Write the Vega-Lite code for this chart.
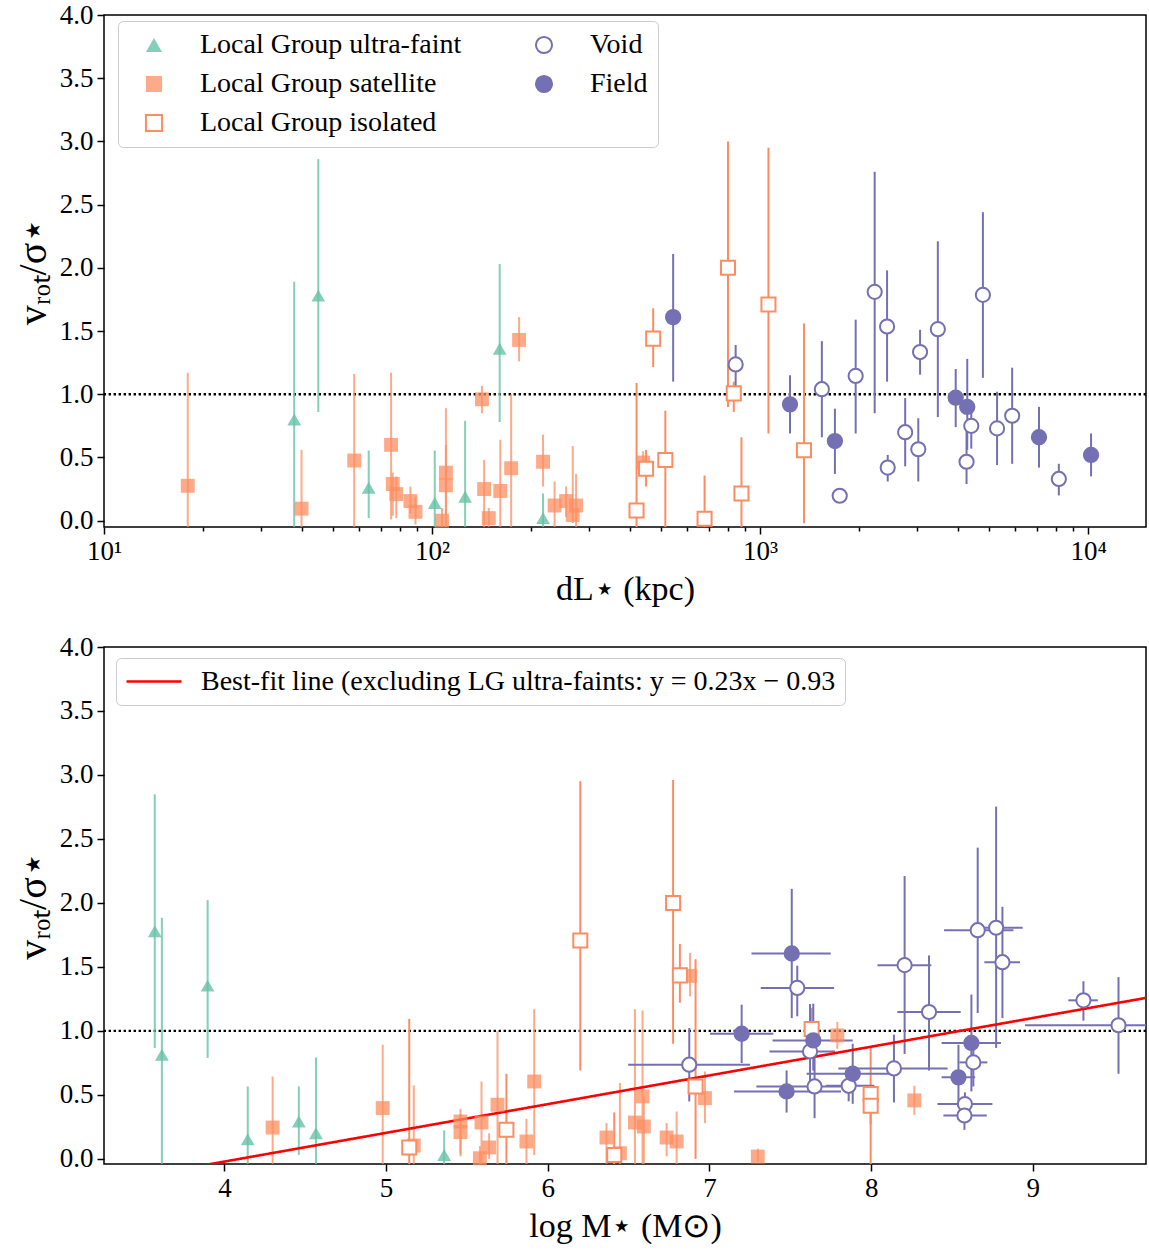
{
  "$schema": "https://vega.github.io/schema/vega-lite/v6.json",
  "background": "white",
  "padding": {"left": 12, "top": 0, "right": 0, "bottom": 0},
  "spacing": 25,
  "config": {
    "font": "Liberation Serif",
    "view": {"stroke": "black", "strokeWidth": 1.5},
    "axis": {"domain": false, "grid": false, "labelFlush": false, "labelFont": "Liberation Serif", "labelFontSize": 27, "labelColor": "black", "tickColor": "black", "tickWidth": 1.5, "tickSize": 7, "labelPadding": 4, "titleFont": "Liberation Serif", "titleFontSize": 34, "titleFontWeight": "normal", "titleColor": "black", "titlePadding": 8},
    "axisY": {"titleFontSize": 40, "titlePadding": 6}
  },
  "datasets": {
    "top": [
      {"g":"Local Group ultra-faint","d":38.0,"v":0.80,"lo":-0.05,"hi":1.89},
      {"g":"Local Group ultra-faint","d":45.0,"v":1.78,"lo":0.86,"hi":2.86},
      {"g":"Local Group ultra-faint","d":64.1,"v":0.26,"lo":0.02,"hi":0.555},
      {"g":"Local Group ultra-faint","d":101.9,"v":0.14,"lo":-0.05,"hi":0.555},
      {"g":"Local Group ultra-faint","d":126.1,"v":0.19,"lo":-0.05,"hi":0.79},
      {"g":"Local Group ultra-faint","d":160.7,"v":1.36,"lo":0.78,"hi":2.03},
      {"g":"Local Group ultra-faint","d":217.9,"v":0.02,"lo":-0.05,"hi":0.215},
      {"g":"Local Group satellite","d":18.0,"v":0.276,"lo":-0.05,"hi":1.17},
      {"g":"Local Group satellite","d":40.0,"v":0.095,"lo":-0.05,"hi":0.56},
      {"g":"Local Group satellite","d":57.9,"v":0.476,"lo":-0.05,"hi":1.16},
      {"g":"Local Group satellite","d":75.0,"v":0.60,"lo":0.01,"hi":1.17},
      {"g":"Local Group satellite","d":75.9,"v":0.29,"lo":0.04,"hi":0.38},
      {"g":"Local Group satellite","d":77.8,"v":0.21,"lo":0.02,"hi":0.35},
      {"g":"Local Group satellite","d":85.9,"v":0.155,"lo":0.06,"hi":0.27},
      {"g":"Local Group satellite","d":89.0,"v":0.07,"lo":-0.03,"hi":0.19},
      {"g":"Local Group satellite","d":107.2,"v":0.0,"lo":-0.05,"hi":0.1},
      {"g":"Local Group satellite","d":110.2,"v":0.38,"lo":-0.05,"hi":0.89},
      {"g":"Local Group satellite","d":110.2,"v":0.28,"lo":0.05,"hi":0.60},
      {"g":"Local Group satellite","d":141.9,"v":0.96,"lo":0.85,"hi":1.066},
      {"g":"Local Group satellite","d":144.1,"v":0.25,"lo":-0.05,"hi":0.48},
      {"g":"Local Group satellite","d":148.9,"v":0.02,"lo":-0.05,"hi":0.1},
      {"g":"Local Group satellite","d":161.4,"v":0.235,"lo":-0.05,"hi":0.64},
      {"g":"Local Group satellite","d":174.2,"v":0.415,"lo":-0.05,"hi":1.0},
      {"g":"Local Group satellite","d":184.2,"v":1.43,"lo":1.26,"hi":1.61},
      {"g":"Local Group satellite","d":217.9,"v":0.466,"lo":0.27,"hi":0.68},
      {"g":"Local Group satellite","d":236.3,"v":0.12,"lo":-0.05,"hi":0.31},
      {"g":"Local Group satellite","d":256.2,"v":0.155,"lo":0.03,"hi":0.27},
      {"g":"Local Group satellite","d":268.4,"v":0.045,"lo":-0.02,"hi":0.59},
      {"g":"Local Group satellite","d":274.8,"v":0.12,"lo":-0.05,"hi":0.37},
      {"g":"Local Group satellite","d":440,"v":0.46,"lo":0.40,"hi":0.55},
      {"g":"Local Group isolated","d":420,"v":0.08,"lo":-0.05,"hi":1.09},
      {"g":"Local Group isolated","d":449,"v":0.41,"lo":0.27,"hi":0.56},
      {"g":"Local Group isolated","d":472,"v":1.44,"lo":1.215,"hi":1.68},
      {"g":"Local Group isolated","d":514,"v":0.48,"lo":-0.05,"hi":0.87},
      {"g":"Local Group isolated","d":677,"v":0.015,"lo":-0.05,"hi":0.357},
      {"g":"Local Group isolated","d":798,"v":2.0,"lo":0.90,"hi":3.0},
      {"g":"Local Group isolated","d":831,"v":1.007,"lo":0.86,"hi":1.1},
      {"g":"Local Group isolated","d":877,"v":0.215,"lo":-0.05,"hi":0.66},
      {"g":"Local Group isolated","d":1060,"v":1.71,"lo":0.69,"hi":2.95},
      {"g":"Local Group isolated","d":1360,"v":0.557,"lo":-0.02,"hi":1.56},
      {"g":"Void","d":842,"v":1.236,"lo":1.05,"hi":1.39},
      {"g":"Void","d":1542,"v":1.04,"lo":0.66,"hi":1.42},
      {"g":"Void","d":1748,"v":0.197,"lo":null,"hi":null},
      {"g":"Void","d":1955,"v":1.145,"lo":0.69,"hi":1.59},
      {"g":"Void","d":2234,"v":1.81,"lo":0.85,"hi":2.76},
      {"g":"Void","d":2437,"v":1.536,"lo":1.10,"hi":1.98},
      {"g":"Void","d":2448,"v":0.42,"lo":0.31,"hi":0.52},
      {"g":"Void","d":2767,"v":0.70,"lo":0.43,"hi":0.97},
      {"g":"Void","d":3034,"v":0.565,"lo":0.31,"hi":0.81},
      {"g":"Void","d":3072,"v":1.334,"lo":1.155,"hi":1.51},
      {"g":"Void","d":3480,"v":1.515,"lo":0.82,"hi":2.21},
      {"g":"Void","d":4257,"v":0.466,"lo":0.29,"hi":0.74},
      {"g":"Void","d":4401,"v":0.75,"lo":0.57,"hi":0.93},
      {"g":"Void","d":4775,"v":1.786,"lo":1.13,"hi":2.44},
      {"g":"Void","d":5274,"v":0.73,"lo":0.44,"hi":1.02},
      {"g":"Void","d":5864,"v":0.83,"lo":0.45,"hi":1.21},
      {"g":"Void","d":8136,"v":0.33,"lo":0.20,"hi":0.45},
      {"g":"Field","d":543,"v":1.61,"lo":1.10,"hi":2.11},
      {"g":"Field","d":1233,"v":0.92,"lo":0.69,"hi":1.15},
      {"g":"Field","d":1690,"v":0.63,"lo":0.37,"hi":0.886},
      {"g":"Field","d":3945,"v":0.973,"lo":0.74,"hi":1.20},
      {"g":"Field","d":4278,"v":0.90,"lo":0.56,"hi":1.28},
      {"g":"Field","d":7079,"v":0.66,"lo":0.42,"hi":0.90},
      {"g":"Field","d":10200,"v":0.52,"lo":0.35,"hi":0.69}
    ],
    "bot": [
      {"g":"Local Group ultra-faint","m":3.569,"v":1.779,"lo":0.867,"hi":2.849},
      {"g":"Local Group ultra-faint","m":3.613,"v":0.814,"lo":-0.05,"hi":1.884},
      {"g":"Local Group ultra-faint","m":3.896,"v":1.354,"lo":0.788,"hi":2.022},
      {"g":"Local Group ultra-faint","m":4.144,"v":0.154,"lo":-0.05,"hi":0.566},
      {"g":"Local Group ultra-faint","m":4.46,"v":0.292,"lo":0.031,"hi":0.566},
      {"g":"Local Group ultra-faint","m":4.566,"v":0.201,"lo":-0.05,"hi":0.793},
      {"g":"Local Group ultra-faint","m":5.359,"v":0.031,"lo":-0.05,"hi":0.222},
      {"g":"Local Group satellite","m":4.298,"v":0.245,"lo":-0.05,"hi":0.644},
      {"g":"Local Group satellite","m":4.979,"v":0.397,"lo":-0.05,"hi":0.892},
      {"g":"Local Group satellite","m":5.171,"v":0.104,"lo":-0.05,"hi":0.574},
      {"g":"Local Group satellite","m":5.46,"v":0.292,"lo":0.039,"hi":0.391},
      {"g":"Local Group satellite","m":5.46,"v":0.209,"lo":0.02,"hi":0.35},
      {"g":"Local Group satellite","m":5.58,"v":0.005,"lo":-0.05,"hi":0.1},
      {"g":"Local Group satellite","m":5.59,"v":0.284,"lo":-0.05,"hi":0.605},
      {"g":"Local Group satellite","m":5.637,"v":0.089,"lo":0.0,"hi":0.2},
      {"g":"Local Group satellite","m":5.689,"v":0.423,"lo":-0.05,"hi":0.997},
      {"g":"Local Group satellite","m":5.868,"v":0.136,"lo":-0.05,"hi":0.313},
      {"g":"Local Group satellite","m":5.916,"v":0.605,"lo":0.03,"hi":1.17},
      {"g":"Local Group satellite","m":6.363,"v":0.167,"lo":-0.05,"hi":0.28},
      {"g":"Local Group satellite","m":6.446,"v":0.044,"lo":-0.05,"hi":0.593},
      {"g":"Local Group satellite","m":6.539,"v":0.284,"lo":-0.05,"hi":1.17},
      {"g":"Local Group satellite","m":6.586,"v":0.488,"lo":-0.05,"hi":1.16},
      {"g":"Local Group satellite","m":6.594,"v":0.253,"lo":-0.05,"hi":0.48},
      {"g":"Local Group satellite","m":6.735,"v":0.167,"lo":0.02,"hi":0.28},
      {"g":"Local Group satellite","m":6.797,"v":0.136,"lo":-0.05,"hi":0.37},
      {"g":"Local Group satellite","m":6.88,"v":1.43,"lo":1.27,"hi":1.61},
      {"g":"Local Group satellite","m":6.972,"v":0.475,"lo":0.28,"hi":0.683},
      {"g":"Local Group satellite","m":7.299,"v":0.018,"lo":-0.02,"hi":0.08},
      {"g":"Local Group satellite","m":7.791,"v":0.965,"lo":0.86,"hi":1.07},
      {"g":"Local Group satellite","m":8.267,"v":0.457,"lo":0.344,"hi":0.571},
      {"g":"Local Group isolated","m":5.143,"v":0.089,"lo":-0.05,"hi":1.094},
      {"g":"Local Group isolated","m":5.744,"v":0.227,"lo":-0.05,"hi":0.665},
      {"g":"Local Group isolated","m":6.201,"v":1.706,"lo":0.69,"hi":2.95},
      {"g":"Local Group isolated","m":6.411,"v":0.031,"lo":-0.05,"hi":0.363},
      {"g":"Local Group isolated","m":6.775,"v":2.0,"lo":0.9,"hi":2.96},
      {"g":"Local Group isolated","m":6.817,"v":1.434,"lo":1.22,"hi":1.68},
      {"g":"Local Group isolated","m":6.914,"v":0.566,"lo":0.0,"hi":1.56},
      {"g":"Local Group isolated","m":7.632,"v":1.015,"lo":0.86,"hi":1.18},
      {"g":"Local Group isolated","m":7.997,"v":0.506,"lo":-0.05,"hi":0.867},
      {"g":"Local Group isolated","m":7.997,"v":0.415,"lo":0.27,"hi":0.56},
      {"g":"Void","m":6.875,"v":0.736,"lo":0.449,"hi":1.023,"mlo":6.497,"mhi":7.251},
      {"g":"Void","m":7.543,"v":1.336,"lo":1.114,"hi":1.51,"mlo":7.317,"mhi":7.771},
      {"g":"Void","m":7.622,"v":0.84,"lo":0.514,"hi":1.21,"mlo":7.371,"mhi":7.777},
      {"g":"Void","m":7.65,"v":0.566,"lo":0.318,"hi":0.81,"mlo":7.29,"mhi":7.85},
      {"g":"Void","m":7.861,"v":0.571,"lo":0.45,"hi":0.66,"mlo":7.72,"mhi":8.02},
      {"g":"Void","m":8.141,"v":0.707,"lo":0.441,"hi":0.971,"mlo":7.797,"mhi":8.473},
      {"g":"Void","m":8.207,"v":1.514,"lo":0.82,"hi":2.21,"mlo":8.039,"mhi":8.372},
      {"g":"Void","m":8.358,"v":1.148,"lo":0.69,"hi":1.59,"mlo":8.162,"mhi":8.554},
      {"g":"Void","m":8.659,"v":1.787,"lo":1.14,"hi":2.432,"mlo":8.451,"mhi":8.88},
      {"g":"Void","m":8.773,"v":1.806,"lo":0.867,"hi":2.753,"mlo":8.694,"mhi":8.937},
      {"g":"Void","m":8.812,"v":1.537,"lo":1.10,"hi":1.97,"mlo":8.70,"mhi":8.921},
      {"g":"Void","m":8.632,"v":0.754,"lo":0.566,"hi":0.93,"mlo":8.546,"mhi":8.719},
      {"g":"Void","m":8.58,"v":0.428,"lo":0.31,"hi":0.52,"mlo":8.41,"mhi":8.75},
      {"g":"Void","m":8.577,"v":0.339,"lo":0.227,"hi":0.45,"mlo":8.447,"mhi":8.715},
      {"g":"Void","m":9.313,"v":1.239,"lo":1.08,"hi":1.388,"mlo":9.22,"mhi":9.402},
      {"g":"Void","m":9.53,"v":1.044,"lo":0.665,"hi":1.42,"mlo":8.952,"mhi":9.9},
      {"g":"Field","m":7.509,"v":1.605,"lo":1.10,"hi":2.11,"mlo":7.26,"mhi":7.75},
      {"g":"Field","m":7.199,"v":0.978,"lo":0.749,"hi":1.205,"mlo":7.003,"mhi":7.395},
      {"g":"Field","m":7.642,"v":0.926,"lo":0.69,"hi":1.213,"mlo":7.39,"mhi":7.886},
      {"g":"Field","m":7.886,"v":0.665,"lo":0.43,"hi":0.90,"mlo":7.601,"mhi":8.137},
      {"g":"Field","m":7.477,"v":0.527,"lo":0.362,"hi":0.691,"mlo":7.152,"mhi":7.814},
      {"g":"Field","m":8.62,"v":0.906,"lo":0.527,"hi":1.284,"mlo":8.436,"mhi":8.803},
      {"g":"Field","m":8.54,"v":0.637,"lo":0.41,"hi":0.892,"mlo":8.436,"mhi":8.643}
    ],
    "fit": [
      {"m":3.255,"v":-0.188,"lab":"Best-fit line (excluding LG ultra-faints: y = 0.23x − 0.93"},
      {"m":9.70,"v":1.258,"lab":"Best-fit line (excluding LG ultra-faints: y = 0.23x − 0.93"}
    ]
  },
  "vconcat": [
    {
      "width": 1042,
      "height": 512,
      "layer": [
        {
          "data": {"values": [{}]},
          "mark": {"type": "rule", "color": "black", "strokeWidth": 2.4, "strokeDash": [2.4, 2.6]},
          "encoding": {"y": {"datum": 1, "type": "quantitative"}}
        },
        {
          "data": {"name": "top"},
          "mark": {"type": "rule", "strokeWidth": 2, "clip": true},
          "encoding": {
            "x": {"field": "d", "type": "quantitative", "scale": {"type": "log", "domain": [10, 15000], "nice": false},
                  "axis": {"title": "dL⋆ (kpc)", "values": [10,20,30,40,50,60,70,80,90,100,200,300,400,500,600,700,800,900,1000,2000,3000,4000,5000,6000,7000,8000,9000,10000],
                           "labelExpr": "datum.value == 10 ? '10¹' : datum.value == 100 ? '10²' : datum.value == 1000 ? '10³' : datum.value == 10000 ? '10⁴' : ''",
                           "tickSize": {"condition": {"test": "datum.value == 10 || datum.value == 100 || datum.value == 1000 || datum.value == 10000", "value": 7}, "value": 4}}},
            "y": {"field": "lo", "type": "quantitative", "scale": {"domain": [-0.05, 4.0], "nice": false, "zero": false},
                  "axis": {"title": "vᵣₒₜ/σ⋆", "values": [0,0.5,1,1.5,2,2.5,3,3.5,4], "format": ".1f"}},
            "y2": {"field": "hi"},
            "stroke": {"field": "g", "type": "nominal", "legend": null,
                       "scale": {"domain": ["Field", "Void", "Local Group isolated", "Local Group satellite", "Local Group ultra-faint"],
                                 "range": ["#7570b3", "#7570b3", "#fc8d62", "rgba(252,141,98,0.75)", "rgba(102,194,165,0.8)"]}}
          }
        },
        {
          "data": {"name": "top"},
          "mark": {"type": "point", "strokeWidth": 2, "opacity": 1},
          "encoding": {
            "x": {"field": "d", "type": "quantitative"},
            "y": {"field": "v", "type": "quantitative"},
            "size": {"field": "g", "type": "nominal", "legend": null,
                     "scale": {"domain": ["Field", "Void", "Local Group isolated", "Local Group satellite", "Local Group ultra-faint"],
                               "range": [205, 190, 196, 216, 280]}},
            "shape": {"field": "g", "type": "nominal",
                      "scale": {"domain": ["Local Group ultra-faint", "Local Group satellite", "Local Group isolated", "Void", "Field"],
                                "range": ["triangle-up", "square", "square", "circle", "circle"]},
                      "legend": {"title": null, "orient": "none", "legendX": 14, "legendY": 6, "columns": 2,
                                 "fillColor": "white", "strokeColor": "#cccccc", "cornerRadius": 5, "padding": 10,
                                 "labelFont": "Liberation Serif", "labelFontSize": 28, "labelColor": "black", "labelLimit": 500,
                                 "symbolSize": 260, "symbolStrokeWidth": 2, "rowPadding": 11, "columnPadding": 56,
                                 "labelOffset": 32, "symbolOffset": 12}},
            "fill": {"field": "g", "type": "nominal",
                     "scale": {"domain": ["Local Group ultra-faint", "Local Group satellite", "Local Group isolated", "Void", "Field"],
                               "range": ["rgba(102,194,165,0.8)", "rgba(252,141,98,0.75)", "white", "white", "#7570b3"]}},
            "color": {"field": "g", "type": "nominal",
                      "scale": {"domain": ["Local Group ultra-faint", "Local Group satellite", "Local Group isolated", "Void", "Field"],
                                "range": ["rgba(102,194,165,0)", "rgba(252,141,98,0)", "#fc8d62", "#7570b3", "#7570b3"]}}
          }
        }
      ]
    },
    {
      "width": 1042,
      "height": 517,
      "layer": [
        {
          "data": {"values": [{}]},
          "mark": {"type": "rule", "color": "black", "strokeWidth": 2.4, "strokeDash": [2.4, 2.6]},
          "encoding": {"y": {"datum": 1, "type": "quantitative"}}
        },
        {
          "data": {"name": "bot"},
          "mark": {"type": "rule", "strokeWidth": 2, "clip": true},
          "encoding": {
            "x": {"field": "m", "type": "quantitative", "scale": {"domain": [3.255, 9.70], "nice": false, "zero": false},
                  "axis": {"title": "log M⋆ (M⊙)", "values": [4,5,6,7,8,9], "format": "d"}},
            "y": {"field": "lo", "type": "quantitative", "scale": {"domain": [-0.04, 4.0], "nice": false, "zero": false},
                  "axis": {"title": "vᵣₒₜ/σ⋆", "values": [0,0.5,1,1.5,2,2.5,3,3.5,4], "format": ".1f"}},
            "y2": {"field": "hi"},
            "stroke": {"field": "g", "type": "nominal", "legend": null,
                       "scale": {"domain": ["Field", "Void", "Local Group isolated", "Local Group satellite", "Local Group ultra-faint"],
                                 "range": ["#7570b3", "#7570b3", "#fc8d62", "rgba(252,141,98,0.75)", "rgba(102,194,165,0.8)"]}}
          }
        },
        {
          "data": {"name": "bot"},
          "mark": {"type": "rule", "strokeWidth": 2, "clip": true},
          "encoding": {
            "x": {"field": "mlo", "type": "quantitative"},
            "x2": {"field": "mhi"},
            "y": {"field": "v", "type": "quantitative"},
            "stroke": {"field": "g", "type": "nominal", "legend": null}
          }
        },
        {
          "data": {"name": "fit"},
          "mark": {"type": "line", "color": "red", "strokeWidth": 2.6, "clip": true},
          "encoding": {
            "x": {"field": "m", "type": "quantitative"},
            "y": {"field": "v", "type": "quantitative"},
            "strokeDash": {"field": "lab", "type": "nominal", "scale": {"range": [[1, 0]]},
                           "legend": {"title": null, "orient": "none", "legendX": 12, "legendY": 11,
                                      "fillColor": "white", "strokeColor": "#cccccc", "cornerRadius": 5, "padding": 9,
                                      "labelFont": "Liberation Serif", "labelFontSize": 28, "labelColor": "black", "labelLimit": 900,
                                      "symbolType": "stroke", "symbolSize": 3025, "symbolStrokeColor": "red", "symbolStrokeWidth": 2.6,
                                      "clipHeight": 29, "labelOffset": 18}}
          }
        },
        {
          "data": {"name": "bot"},
          "mark": {"type": "point", "strokeWidth": 2, "opacity": 1},
          "encoding": {
            "x": {"field": "m", "type": "quantitative"},
            "y": {"field": "v", "type": "quantitative"},
            "size": {"field": "g", "type": "nominal", "legend": null,
                     "scale": {"domain": ["Field", "Void", "Local Group isolated", "Local Group satellite", "Local Group ultra-faint"],
                               "range": [205, 190, 196, 216, 280]}},
            "shape": {"field": "g", "type": "nominal", "legend": null,
                      "scale": {"domain": ["Local Group ultra-faint", "Local Group satellite", "Local Group isolated", "Void", "Field"],
                                "range": ["triangle-up", "square", "square", "circle", "circle"]}},
            "fill": {"field": "g", "type": "nominal", "legend": null,
                     "scale": {"domain": ["Local Group ultra-faint", "Local Group satellite", "Local Group isolated", "Void", "Field"],
                               "range": ["rgba(102,194,165,0.8)", "rgba(252,141,98,0.75)", "white", "white", "#7570b3"]}},
            "color": {"field": "g", "type": "nominal", "legend": null,
                      "scale": {"domain": ["Local Group ultra-faint", "Local Group satellite", "Local Group isolated", "Void", "Field"],
                                "range": ["rgba(102,194,165,0)", "rgba(252,141,98,0)", "#fc8d62", "#7570b3", "#7570b3"]}}
          }
        }
      ]
    }
  ],
  "resolve": {
    "scale": {"x": "independent", "y": "independent", "color": "independent", "fill": "independent", "shape": "independent", "stroke": "independent", "strokeDash": "independent", "size": "independent"},
    "axis": {"x": "independent", "y": "independent"},
    "legend": {"color": "independent", "fill": "independent", "shape": "independent", "strokeDash": "independent", "size": "independent", "stroke": "independent"}
  }
}
